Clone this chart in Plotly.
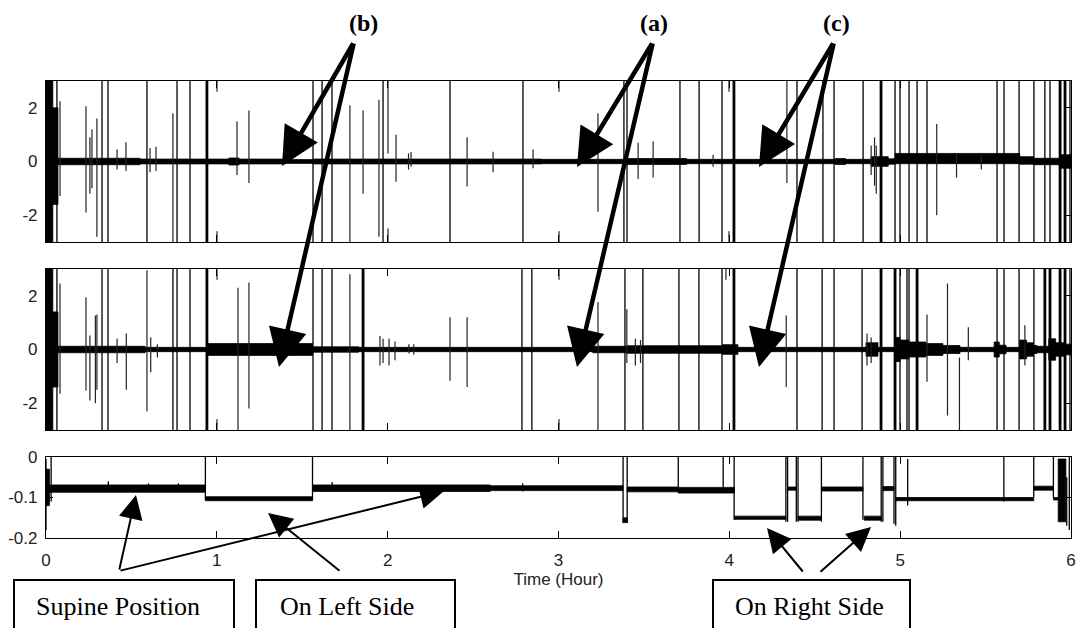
import plotly.graph_objects as go

# ---------------- DATA (hours / signal values) ----------------
hour_ticks = [0, 1, 2, 3, 4, 5, 6]
sig_ticks = [-2, 0, 2]
sig_ticktext = ["-2", "0", "2"]
pos_ticks = [-0.2, -0.1, 0]
pos_ticktext = ["-0.2", "-0.1", "0"]

# Panel 1 - noise envelope segments: start, end, upper, lower
p1_band_start = [0.00, 0.04, 0.07, 0.55, 1.07, 1.13, 1.40, 1.56, 2.90, 3.40, 3.75, 4.62, 4.68, 4.83, 4.93, 4.97, 5.70, 5.78, 5.94]
p1_band_end   = [0.04, 0.07, 0.55, 1.07, 1.13, 1.40, 1.56, 2.90, 3.40, 3.75, 4.62, 4.68, 4.83, 4.93, 4.97, 5.70, 5.78, 5.94, 6.00]
p1_band_hi    = [3.0, 2.0, 0.12, 0.09, 0.13, 0.09, 0.07, 0.09, 0.08, 0.11, 0.08, 0.11, 0.08, 0.18, 0.10, 0.30, 0.18, 0.12, 0.25]
p1_band_lo    = [-3.0, -1.6, -0.12, -0.09, -0.13, -0.09, -0.07, -0.09, -0.08, -0.11, -0.08, -0.11, -0.08, -0.18, -0.10, -0.08, -0.10, -0.12, -0.25]
# Panel 1 - full-scale artefact lines
p1_full_thin = [0.064, 0.328, 0.363, 0.591, 0.767, 0.843, 1.563, 1.616, 1.674, 1.973, 2.365, 2.792, 3.383,
                3.401, 3.711, 3.823, 3.957, 4.396, 4.548, 4.613, 4.783, 4.970, 4.999, 5.052, 5.099, 5.157,
                5.567, 5.608, 5.696, 5.783, 5.847, 5.877, 5.994]
p1_full_thick = [0.942, 4.027, 4.888, 5.936, 5.965]
# Panel 1 - partial spikes: time, top, bottom
p1_spike_t  = [0.082, 0.234, 0.257, 0.269, 0.298, 0.416, 0.468, 0.609, 0.644, 0.743, 1.001, 1.001, 1.118, 1.188,
               1.779, 1.856, 1.949, 2.002, 2.002, 2.049, 2.122, 2.137, 2.465, 2.617, 2.851, 3.003, 3.003, 3.231,
               3.466, 3.554, 3.905, 3.998, 3.998, 4.337, 4.830, 4.850, 4.860, 5.214, 5.330, 5.475]
p1_spike_hi = [2.25, 2.06, 0.9, 1.2, 1.6, 0.45, 0.72, 0.5, 0.55, 1.8, 3.0, -2.6, 1.5, 1.9,
               2.1, 1.9, 2.3, 3.0, -2.5, 1.0, 0.3, 0.35, 0.9, 0.36, 0.45, 3.0, -2.6, 1.8,
               0.7, 0.75, 0.25, 3.0, -2.6, 3.0, 0.6, 0.9, 0.6, 1.4, 0.3, 0.25]
p1_spike_lo = [-1.29, -1.9, -1.2, -1.0, -2.8, -0.3, -0.35, -0.4, -0.35, -3.0, 2.6, -3.0, -0.5, -0.8,
               -3.0, -1.2, -2.8, 0.3, -3.0, -0.75, -0.3, -0.2, -0.93, -0.4, -0.25, 2.6, -3.0, -1.87,
               -0.65, -0.6, -0.2, 2.6, -3.0, -0.8, -0.5, -0.9, -1.2, -2.0, -0.6, -0.3]

# Panel 2 - noise envelope segments
p2_band_start = [0.00, 0.04, 0.07, 0.58, 0.94, 1.56, 1.83, 3.20, 3.40, 3.96, 4.05, 4.80, 4.87, 4.97, 5.00, 5.05, 5.15, 5.25, 5.35, 5.55, 5.58, 5.62, 5.70, 5.74, 5.78, 5.80, 5.87, 5.91, 5.96]
p2_band_end   = [0.04, 0.07, 0.58, 0.94, 1.56, 1.83, 3.20, 3.40, 3.96, 4.05, 4.80, 4.87, 4.97, 5.00, 5.05, 5.15, 5.25, 5.35, 5.55, 5.58, 5.62, 5.70, 5.74, 5.78, 5.80, 5.87, 5.91, 5.96, 6.00]
p2_band_hi    = [3.0, 1.4, 0.12, 0.08, 0.22, 0.10, 0.08, 0.12, 0.14, 0.18, 0.08, 0.25, 0.08, 0.45, 0.35, 0.28, 0.22, 0.15, 0.08, 0.28, 0.16, 0.08, 0.35, 0.25, 0.15, 0.12, 0.40, 0.25, 0.20]
p2_band_lo    = [-3.0, -1.4, -0.12, -0.08, -0.22, -0.10, -0.08, -0.12, -0.14, -0.18, -0.08, -0.25, -0.08, -0.45, -0.35, -0.28, -0.22, -0.15, -0.08, -0.28, -0.16, -0.08, -0.35, -0.25, -0.15, -0.12, -0.40, -0.25, -0.20]
p2_full_thin = [0.064, 0.328, 0.363, 0.743, 0.767, 0.843, 1.563, 1.616, 1.674, 2.786, 2.844, 3.389, 3.494,
                3.705, 3.822, 3.957, 4.396, 4.543, 4.613, 4.777, 4.999, 5.040, 5.052, 5.567, 5.608, 5.696,
                5.783, 5.994]
p2_full_thick = [0.942, 1.856, 4.027, 4.888, 4.970, 5.099, 5.847, 5.877, 5.936, 5.965]
p2_spike_t  = [0.082, 0.234, 0.257, 0.289, 0.298, 0.416, 0.470, 0.591, 0.613, 0.652, 1.001, 1.001, 1.124, 1.188,
               1.779, 1.955, 1.973, 2.008, 2.043, 2.124, 2.153, 2.365, 2.465, 3.003, 3.003, 3.231, 3.400,
               3.450, 3.480, 3.980, 4.333, 4.806, 4.830, 5.157, 5.277, 5.347, 5.399, 5.730]
p2_spike_hi = [2.46, 1.95, 0.52, 1.27, 1.3, 0.4, 0.6, 2.95, 0.46, 0.2, 3.0, -2.6, 2.3, 2.5,
               2.8, 0.5, 0.4, 0.4, 0.3, 0.2, 0.2, 1.2, 1.2, 3.0, -2.6, 1.77, 1.5,
               0.4, 0.35, 3.0, 1.27, 0.6, 0.45, 1.3, 2.46, -0.3, 0.83, 0.9]
p2_spike_lo = [-1.65, -1.53, -1.9, -2.0, -1.5, -0.5, -1.5, -2.3, -0.85, -0.3, 2.6, -3.0, -3.0, -2.2,
               -3.0, -0.6, -0.5, -0.6, -0.4, -0.15, -0.2, -1.16, -1.4, 2.6, -3.0, -3.0, -0.5,
               -0.6, -0.5, 2.6, -1.4, -0.6, -0.5, -1.2, -2.46, -3.0, -0.4, -0.6]

# Panel 3 - body position level segments: start, end, upper, lower
p3_seg_start = [0.00, 0.02, 0.933, 1.56, 2.60, 3.378, 3.402, 3.70, 4.030, 4.341, 4.402, 4.539, 4.790, 4.899, 4.974, 5.782, 5.897, 5.925]
p3_seg_end   = [0.02, 0.933, 1.56, 2.60, 3.378, 3.402, 3.70, 4.030, 4.331, 4.392, 4.539, 4.782, 4.889, 4.964, 5.782, 5.897, 5.925, 5.970]
p3_seg_hi    = [-0.030, -0.069, -0.098, -0.069, -0.071, -0.150, -0.074, -0.075, -0.146, -0.074, -0.146, -0.074, -0.146, -0.073, -0.100, -0.072, -0.100, -0.005]
p3_seg_lo    = [-0.120, -0.087, -0.108, -0.085, -0.083, -0.162, -0.086, -0.089, -0.154, -0.082, -0.156, -0.084, -0.156, -0.083, -0.108, -0.082, -0.106, -0.160]
p3_spike_t  = [0.000, 0.030, 0.365, 0.600, 0.775, 0.933, 1.560, 1.675, 2.790, 3.378, 3.402, 3.701, 3.964, 4.028,
               4.331, 4.341, 4.392, 4.402, 4.539, 4.782, 4.889, 4.899, 4.964, 4.974, 5.044, 5.607, 5.782,
               5.897, 5.975, 5.990]
p3_spike_hi = [-0.005, 0.0, -0.060, -0.065, -0.065, 0.0, 0.0, -0.062, -0.065, 0.0, 0.0, 0.0, 0.0, 0.0,
               0.0, 0.0, 0.0, 0.0, 0.0, 0.0, 0.0, 0.0, 0.0, 0.0, -0.005, 0.0, 0.0,
               0.0, -0.05, 0.0]
p3_spike_lo = [-0.180, -0.110, -0.083, -0.080, -0.080, -0.105, -0.105, -0.080, -0.085, -0.163, -0.163, -0.085, -0.085, -0.155,
               -0.160, -0.160, -0.160, -0.160, -0.160, -0.155, -0.160, -0.160, -0.165, -0.170, -0.120, -0.110, -0.100,
               -0.100, -0.170, -0.180]

# ---------------- FIGURE ----------------
W, H = 1077, 628
ML, MR, MT, MB = 46, 6, 81, 90
PW, PH = W - ML - MR, H - MT - MB


def X(px):
    return (px - ML) / PW


def Y(py):
    return (H - MB - py) / PH


def band_trace(s, e, hi, lo, xa, ya):
    xs, ys = [], []
    for a, b, h, l in zip(s, e, hi, lo):
        xs += [a, b, b, a, a, None]
        ys += [h, h, l, l, h, None]
    return go.Scatter(x=xs, y=ys, mode="lines", fill="toself", fillcolor="black",
                      line=dict(color="black", width=0.8), xaxis=xa, yaxis=ya,
                      hoverinfo="skip", showlegend=False)


def seg_trace(ts, hi, lo, xa, ya, width, color="black"):
    xs, ys = [], []
    for t, h, l in zip(ts, hi, lo):
        xs += [t, t, None]
        ys += [l, h, None]
    return go.Scatter(x=xs, y=ys, mode="lines", line=dict(color=color, width=width),
                      xaxis=xa, yaxis=ya, hoverinfo="skip", showlegend=False)


fig = go.Figure()
for xa, ya, bs, be, bh, bl, fthin, fthick, st, sh, sl in [
    ("x", "y", p1_band_start, p1_band_end, p1_band_hi, p1_band_lo, p1_full_thin, p1_full_thick, p1_spike_t, p1_spike_hi, p1_spike_lo),
    ("x2", "y2", p2_band_start, p2_band_end, p2_band_hi, p2_band_lo, p2_full_thin, p2_full_thick, p2_spike_t, p2_spike_hi, p2_spike_lo),
]:
    fig.add_trace(band_trace(bs, be, bh, bl, xa, ya))
    fig.add_trace(seg_trace(st, sh, sl, xa, ya, 1.2, "#222"))
    fig.add_trace(seg_trace(fthin, [3.0] * len(fthin), [-3.0] * len(fthin), xa, ya, 1.3))
    fig.add_trace(seg_trace(fthick, [3.0] * len(fthick), [-3.0] * len(fthick), xa, ya, 2.8))

fig.add_trace(band_trace(p3_seg_start, p3_seg_end, p3_seg_hi, p3_seg_lo, "x3", "y3"))
fig.add_trace(seg_trace(p3_spike_t, p3_spike_hi, p3_spike_lo, "x3", "y3", 1.3))

tick_font = dict(family="Liberation Sans, Arial, sans-serif", size=17, color="#222")
xbase = dict(range=[0, 6], tickvals=hour_ticks, ticks="inside", ticklen=7, tickcolor="black",
             showline=True, linecolor="black", linewidth=1.2, mirror="ticks", showgrid=False,
             zeroline=False, tickfont=tick_font, domain=[0, 1])
ybase = dict(ticks="inside", ticklen=7, tickcolor="black", showline=True, linecolor="black",
             linewidth=1.2, mirror="ticks", showgrid=False, zeroline=False, tickfont=tick_font,
             ticklabelstandoff=4)

fig.update_layout(
    width=W, height=H, margin=dict(l=ML, r=MR, t=MT, b=MB, autoexpand=False),
    paper_bgcolor="white", plot_bgcolor="white", showlegend=False,
    xaxis=dict(xbase, anchor="y", showticklabels=False),
    yaxis=dict(ybase, anchor="x", domain=[Y(242), 1], range=[-3, 3], tickvals=sig_ticks, ticktext=sig_ticktext),
    xaxis2=dict(xbase, anchor="y2", showticklabels=False),
    yaxis2=dict(ybase, anchor="x2", domain=[Y(430), Y(269)], range=[-3, 3], tickvals=sig_ticks, ticktext=sig_ticktext),
    xaxis3=dict(xbase, anchor="y3", showticklabels=True, ticklabelstandoff=6, ticklabeloverflow="allow",
                title=dict(text="Time (Hour)", font=tick_font, standoff=4)),
    yaxis3=dict(ybase, anchor="x3", domain=[0, Y(457)], range=[-0.2, 0], tickvals=pos_ticks, ticktext=pos_ticktext),
)

annotations = []
# Big arrows from labels to the top two panels
big_arrows = [
    ((354, 42), (282, 166)), ((354, 42), (279, 367)),
    ((653, 42), (577, 167)), ((653, 42), (577, 367)),
    ((834, 42), (759, 167)), ((834, 42), (759, 367)),
]
for (tx, ty), (hx, hy) in big_arrows:
    annotations.append(dict(x=X(hx), y=Y(hy), xref="paper", yref="paper", ax=tx - hx, ay=ty - hy,
                            axref="pixel", ayref="pixel", text="", showarrow=True, arrowhead=2,
                            arrowsize=1.7, arrowwidth=4.5, arrowcolor="black", standoff=0))
for label, cx in [("(b)", 363), ("(a)", 654), ("(c)", 836)]:
    annotations.append(dict(x=X(cx), y=Y(23), xref="paper", yref="paper", text="<b>" + label + "</b>",
                            showarrow=False, xanchor="center", yanchor="middle",
                            font=dict(family="Liberation Serif, Times New Roman, serif", size=24, color="black")))
# Small arrows from boxes to the position panel
small_arrows = [
    ((119, 571), (136, 495)), ((119, 571), (444, 491)),
    ((341, 572), (268, 513)),
    ((804, 573), (767, 528)), ((819, 573), (871, 527)),
]
for (tx, ty), (hx, hy) in small_arrows:
    annotations.append(dict(x=X(hx), y=Y(hy), xref="paper", yref="paper", ax=tx - hx, ay=ty - hy,
                            axref="pixel", ayref="pixel", text="", showarrow=True, arrowhead=2,
                            arrowsize=2.4, arrowwidth=2, arrowcolor="black", standoff=0))
box_specs = [("Supine Position", 14, 234, 34), ("On Left Side", 256, 455, 278), ("On Right Side", 713, 910, 733)]
shapes = []
for text, x0, x1, tx in box_specs:
    shapes.append(dict(type="rect", xref="paper", yref="paper", x0=X(x0), x1=X(x1), y0=Y(580), y1=Y(660),
                       line=dict(color="black", width=2), fillcolor="white", layer="above"))
    annotations.append(dict(x=X(tx), y=Y(606), xref="paper", yref="paper", text=text, showarrow=False,
                            xanchor="left", yanchor="middle",
                            font=dict(family="Liberation Serif, Times New Roman, serif", size=26, color="black")))
fig.update_layout(annotations=annotations, shapes=shapes)

fig.write_html("out.html", config={"displayModeBar": False},
               post_script="document.body.style.margin='0';document.body.style.padding='0';")
